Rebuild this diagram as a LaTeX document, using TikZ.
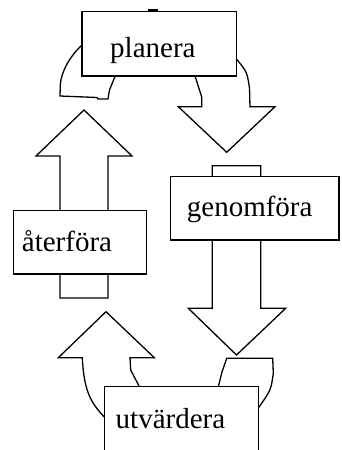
\documentclass[tikz,border=0pt]{standalone}
\usepackage{fontspec}
\setmainfont{Liberation Serif}
\tikzset{
  box/.style={draw=black, fill=white, line width=1.3pt, inner sep=0pt, rectangle},
  blockarrow/.style={draw=black, fill=white, line width=1.3pt, line join=miter},
  lbl/.style={anchor=base west, inner sep=0pt, text=black, font=\fontsize{29}{31}\selectfont}
}
\begin{document}
\begin{tikzpicture}[x=1pt,y=-1pt]
\clip (0,0) rectangle (342,450);
% block arrows (drawn behind the boxes)
% planera -> genomfora (curved)
\draw[blockarrow] (205,50) -- (195,76) .. controls (199,86) .. (201.7,97) -- (201.7,106.7)
  -- (178.3,106.7) -- (226.7,152.3) -- (275,106.7) -- (250,106.7) -- (249.5,88)
  .. controls (247,72) .. (237.3,60) -- (225,50) -- cycle;
% genomfora -> utvardera
\draw[blockarrow] (212.3,165.7) -- (212.3,308.3) -- (188.3,308.3) -- (236.5,355)
  -- (285.7,308.3) -- (260.7,308.3) -- (260.7,165.7) -- cycle;
% utvardera -> aterfora (curved)
\draw[blockarrow] (115,420) -- (104.3,417) .. controls (90,402) and (84,390) .. (82.3,357.7)
  -- (58.3,357.7) -- (106,311.7) -- (154.3,357.7) -- (130,357.7) -- (130.7,370)
  -- (139,386) -- (130,400) -- cycle;
% aterfora -> planera
\draw[blockarrow] (60,298) -- (60,156) -- (36,156) -- (84,110) -- (132,156)
  -- (108,156) -- (108,298) -- cycle;
% tail piece left of planera
\draw[blockarrow] (100,55) -- (82,45) .. controls (70,56) and (61,72) .. (60.3,85) -- (60,96)
  -- (97,97.5) -- (98,99) -- (108,99) -- (109.5,90) -- (115,76.5) -- (105,65) -- cycle;
% tail piece right of utvardera
\draw[blockarrow] (235,400) -- (218.3,386.7) -- (222,372) -- (225,363.3) -- (226.7,358.3)
  -- (272.7,358.3) -- (273.3,373.3) .. controls (271,390) .. (258.3,408) -- (245,400) -- cycle;
% small tab on top of planera
\fill[black] (148,9.3) rectangle (158,12.3);
% boxes
\node[box, minimum width=154.7pt, minimum height=64.3pt] (plan) at (159.35,43.85) {};
\node[box, minimum width=168.5pt, minimum height=63.3pt] (genom) at (254.75,208.35) {};
\node[box, minimum width=133.4pt, minimum height=63.3pt] (ater) at (80,242.35) {};
\node[box, minimum width=154pt, minimum height=64pt] (utv) at (181.3,418.7) {};
% labels
\node[lbl] (planT) at (110,57.3) {planera};
\node[lbl] (genomT) at (186.7,216.7) {genomföra};
\node[lbl] (aterT) at (21.7,251.7) {återföra};
\node[lbl] (utvT) at (115.5,428.8) {utvärdera};
\end{tikzpicture}
\end{document}
